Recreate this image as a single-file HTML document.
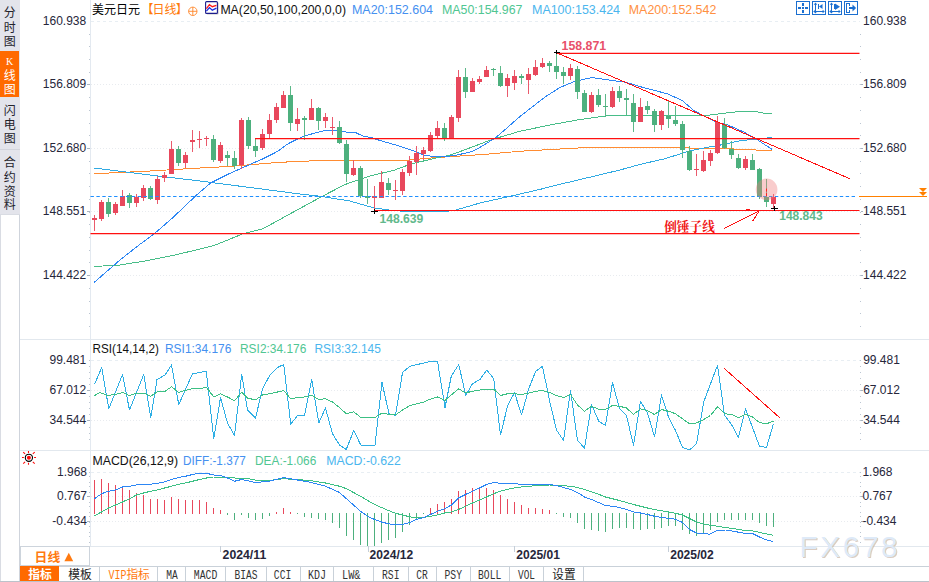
<!DOCTYPE html>
<html><head><meta charset="utf-8"><title>USDJPY</title>
<style>html,body{margin:0;padding:0;background:#fff;overflow:hidden}body{width:929px;height:582px}</style></head>
<body><svg width="929" height="582" viewBox="0 0 929 582" style="display:block;font-family:'Liberation Sans',sans-serif">
<rect width="929" height="582" fill="#fff"/>
<g shape-rendering="crispEdges">
<rect x="0" y="0" width="20" height="214" fill="#e3e4eb"/>
<rect x="0" y="51" width="19" height="46" fill="#ff6a00"/>
<rect x="0" y="149" width="20" height="1" fill="#d2d4dc"/>
<rect x="0" y="214" width="1" height="368" fill="#d9dce3"/>
<rect x="19" y="214" width="1" height="368" fill="#cfd4dc"/>
<rect x="0" y="214" width="20" height="1" fill="#d9dce3"/>
</g>
<g font-family="'Liberation Sans','Noto Sans CJK SC',sans-serif" font-size="12" fill="#23232b" text-anchor="middle">
<text x="9.8" y="17.2">分</text>
<text x="9.8" y="32">时</text>
<text x="9.8" y="46">图</text>
</g>
<g font-family="'Liberation Sans','Noto Sans CJK SC',sans-serif" font-size="12" fill="#fff" text-anchor="middle">
<text x="9.8" y="80">线</text>
<text x="9.8" y="94">图</text>
</g>
<text x="9.6" y="65.3" font-family="'Liberation Serif',serif" font-size="10" fill="#fff" text-anchor="middle">K</text>
<g font-family="'Liberation Sans','Noto Sans CJK SC',sans-serif" font-size="12" fill="#23232b" text-anchor="middle">
<text x="9.8" y="115.2">闪</text>
<text x="9.8" y="129.4">电</text>
<text x="9.8" y="143.2">图</text>
</g>
<g font-family="'Liberation Sans','Noto Sans CJK SC',sans-serif" font-size="12" fill="#23232b" text-anchor="middle">
<text x="9.8" y="167.4">合</text>
<text x="9.8" y="181.5">约</text>
<text x="9.8" y="195.6">资</text>
<text x="9.8" y="209.4">料</text>
</g>
<g shape-rendering="crispEdges">
<rect x="90" y="0" width="1" height="546" fill="#e3e9f0"/>
<rect x="20" y="339" width="909" height="1" fill="#e2e8ee"/>
<rect x="20" y="450" width="909" height="1" fill="#e2e8ee"/>
<rect x="20" y="546" width="909" height="1" fill="#e2e8ee"/>
<rect x="20" y="566" width="909" height="1" fill="#c9d1d9"/>
<rect x="0" y="581" width="929" height="1" fill="#bcc2ca"/>
</g>
<g fill="none" shape-rendering="crispEdges">
<path d="M91 21.5H860" stroke="#e8eef3" stroke-dasharray="3 3"/>
<path d="M91 84.5H860" stroke="#e8ebef" stroke-dasharray="1 2"/>
<path d="M91 148.5H860" stroke="#e8ebef" stroke-dasharray="1 2"/>
<path d="M91 211.5H860" stroke="#e8ebef" stroke-dasharray="1 2"/>
<path d="M91 275.5H860" stroke="#e8ebef" stroke-dasharray="1 2"/>
<path d="M91 360.5H860" stroke="#e8eef3" stroke-dasharray="3 3"/>
<path d="M91 390.5H860" stroke="#e8ebef" stroke-dasharray="1 2"/>
<path d="M91 420.5H860" stroke="#e8ebef" stroke-dasharray="1 2"/>
<path d="M91 472.5H860" stroke="#e8eef3" stroke-dasharray="3 3"/>
<path d="M91 496.5H860" stroke="#e8ebef" stroke-dasharray="1 2"/>
<path d="M91 521.5H860" stroke="#e8ebef" stroke-dasharray="1 2"/>
</g>
<g fill="#bcc6d2" shape-rendering="crispEdges">
<rect x="89" y="34" width="1" height="1"/><rect x="860" y="34" width="1" height="1"/>
<rect x="89" y="46" width="1" height="1"/><rect x="860" y="46" width="1" height="1"/>
<rect x="89" y="59" width="1" height="1"/><rect x="860" y="59" width="1" height="1"/>
<rect x="89" y="72" width="1" height="1"/><rect x="860" y="72" width="1" height="1"/>
<rect x="89" y="84" width="1" height="1"/><rect x="860" y="84" width="1" height="1"/>
<rect x="89" y="97" width="1" height="1"/><rect x="860" y="97" width="1" height="1"/>
<rect x="89" y="110" width="1" height="1"/><rect x="860" y="110" width="1" height="1"/>
<rect x="89" y="123" width="1" height="1"/><rect x="860" y="123" width="1" height="1"/>
<rect x="89" y="135" width="1" height="1"/><rect x="860" y="135" width="1" height="1"/>
<rect x="89" y="148" width="1" height="1"/><rect x="860" y="148" width="1" height="1"/>
<rect x="89" y="161" width="1" height="1"/><rect x="860" y="161" width="1" height="1"/>
<rect x="89" y="173" width="1" height="1"/><rect x="860" y="173" width="1" height="1"/>
<rect x="89" y="186" width="1" height="1"/><rect x="860" y="186" width="1" height="1"/>
<rect x="89" y="199" width="1" height="1"/><rect x="860" y="199" width="1" height="1"/>
<rect x="89" y="212" width="1" height="1"/><rect x="860" y="212" width="1" height="1"/>
<rect x="89" y="224" width="1" height="1"/><rect x="860" y="224" width="1" height="1"/>
<rect x="89" y="237" width="1" height="1"/><rect x="860" y="237" width="1" height="1"/>
<rect x="89" y="250" width="1" height="1"/><rect x="860" y="250" width="1" height="1"/>
<rect x="89" y="262" width="1" height="1"/><rect x="860" y="262" width="1" height="1"/>
<rect x="89" y="275" width="1" height="1"/><rect x="860" y="275" width="1" height="1"/>
<rect x="89" y="288" width="1" height="1"/><rect x="860" y="288" width="1" height="1"/>
<rect x="89" y="301" width="1" height="1"/><rect x="860" y="301" width="1" height="1"/>
<rect x="89" y="313" width="1" height="1"/><rect x="860" y="313" width="1" height="1"/>
<rect x="89" y="326" width="1" height="1"/><rect x="860" y="326" width="1" height="1"/>
<rect x="89" y="360" width="1" height="1"/><rect x="860" y="360" width="1" height="1"/>
<rect x="89" y="366" width="1" height="1"/><rect x="860" y="366" width="1" height="1"/>
<rect x="89" y="372" width="1" height="1"/><rect x="860" y="372" width="1" height="1"/>
<rect x="89" y="378" width="1" height="1"/><rect x="860" y="378" width="1" height="1"/>
<rect x="89" y="384" width="1" height="1"/><rect x="860" y="384" width="1" height="1"/>
<rect x="89" y="390" width="1" height="1"/><rect x="860" y="390" width="1" height="1"/>
<rect x="89" y="396" width="1" height="1"/><rect x="860" y="396" width="1" height="1"/>
<rect x="89" y="402" width="1" height="1"/><rect x="860" y="402" width="1" height="1"/>
<rect x="89" y="408" width="1" height="1"/><rect x="860" y="408" width="1" height="1"/>
<rect x="89" y="414" width="1" height="1"/><rect x="860" y="414" width="1" height="1"/>
<rect x="89" y="420" width="1" height="1"/><rect x="860" y="420" width="1" height="1"/>
<rect x="89" y="427" width="1" height="1"/><rect x="860" y="427" width="1" height="1"/>
<rect x="89" y="433" width="1" height="1"/><rect x="860" y="433" width="1" height="1"/>
<rect x="89" y="439" width="1" height="1"/><rect x="860" y="439" width="1" height="1"/>
<rect x="89" y="472" width="1" height="1"/><rect x="860" y="472" width="1" height="1"/>
<rect x="89" y="476" width="1" height="1"/><rect x="860" y="476" width="1" height="1"/>
<rect x="89" y="482" width="1" height="1"/><rect x="860" y="482" width="1" height="1"/>
<rect x="89" y="486" width="1" height="1"/><rect x="860" y="486" width="1" height="1"/>
<rect x="89" y="492" width="1" height="1"/><rect x="860" y="492" width="1" height="1"/>
<rect x="89" y="496" width="1" height="1"/><rect x="860" y="496" width="1" height="1"/>
<rect x="89" y="502" width="1" height="1"/><rect x="860" y="502" width="1" height="1"/>
<rect x="89" y="506" width="1" height="1"/><rect x="860" y="506" width="1" height="1"/>
<rect x="89" y="512" width="1" height="1"/><rect x="860" y="512" width="1" height="1"/>
<rect x="89" y="516" width="1" height="1"/><rect x="860" y="516" width="1" height="1"/>
<rect x="89" y="522" width="1" height="1"/><rect x="860" y="522" width="1" height="1"/>
<rect x="89" y="526" width="1" height="1"/><rect x="860" y="526" width="1" height="1"/>
<rect x="89" y="532" width="1" height="1"/><rect x="860" y="532" width="1" height="1"/>
<rect x="89" y="536" width="1" height="1"/><rect x="860" y="536" width="1" height="1"/>
<rect x="89" y="542" width="1" height="1"/><rect x="860" y="542" width="1" height="1"/>
</g>
<g fill="#aab4c0" shape-rendering="crispEdges">
<rect x="87" y="84" width="3" height="1"/><rect x="861" y="84" width="2" height="1"/>
<rect x="87" y="148" width="3" height="1"/><rect x="861" y="148" width="2" height="1"/>
<rect x="87" y="211" width="3" height="1"/><rect x="861" y="211" width="2" height="1"/>
<rect x="87" y="275" width="3" height="1"/><rect x="861" y="275" width="2" height="1"/>
<rect x="87" y="390" width="3" height="1"/><rect x="861" y="390" width="2" height="1"/>
<rect x="87" y="420" width="3" height="1"/><rect x="861" y="420" width="2" height="1"/>
<rect x="87" y="496" width="3" height="1"/><rect x="861" y="496" width="2" height="1"/>
<rect x="87" y="521" width="3" height="1"/><rect x="861" y="521" width="2" height="1"/>
</g>
<polyline points="94.25,173.75 150,171 200,168 230,166.4 280,162.3 322,160.4 405,160.4 426,158.4 440,157.3 470,155.4 492,153.75 520,151.25 590,147.3 685.2,147.2 690,148.3 730.4,148.3 736.9,149.6 754.6,149.6 757.9,150.9 772.4,150.9" fill="none" stroke="#ff8c32" stroke-width="1" stroke-linejoin="round" shape-rendering="crispEdges"/>
<polyline points="94,168 150,175 200,181 250,187.5 300,194 320,196.25 350,201 374,208 392,210.4 404,211.3 447,211.3 456,210 480,203 515,195.2 540,189.4 558.75,184.6 620,170 640,164.4 665.8,158.5 688.4,151.2 707.8,147.2 724,144.4 740,140.7 756.3,139.1 772.4,137.5" fill="none" stroke="#30aae2" stroke-width="1" stroke-linejoin="round" shape-rendering="crispEdges"/>
<polyline points="94,266.5 120,265 145,261 175,255 200,249 215.5,245 243,233.75 263,228.75 288,215 320,197.5 345,184.5 370,176 394.2,170.2 410.4,164.2 434.6,158.3 450,155.2 466.9,149 492,139.5 520,131.25 550,125 580,119.5 610,115.4 640,115.4 678.8,115.4 704.6,115.7 714.3,114.4 730.4,112.5 743.3,111.2 754.6,111.2 764.3,113.3 772.4,113.3" fill="none" stroke="#48bd88" stroke-width="1" stroke-linejoin="round" shape-rendering="crispEdges"/>
<polyline points="94,282.5 120,260 139,245 154,234 173,217.5 195.5,196 210.5,183 230,173.3 251,164 262.3,159.1 278.4,151 286.5,144.6 294.6,140.5 302.7,136.5 314,133.3 325.3,130.4 339.8,130.4 346.3,132 354.3,132 364,136.5 370.5,137.3 380,140.5 400,146.25 415,151.25 425,155.5 440,157 455,155.5 472.5,151.5 482,146.2 492,140 496,137.5 520,116.5 545,97 560,87.5 575,81.25 592,77.5 605,79.5 626,82.3 640,86.6 650,89.2 667.5,93.9 682,100.3 693.3,110 704.6,116.5 717.5,122.5 727.2,124.6 743.3,131.8 756.3,139.1 772.4,149.6" fill="none" stroke="#2c86f4" stroke-width="1" stroke-linejoin="round" shape-rendering="crispEdges"/>
<g shape-rendering="crispEdges">
<rect x="94" y="215" width="1" height="16" fill="#ea5a6c"/>
<rect x="92" y="218" width="5" height="2" fill="#e8485c"/>
<rect x="101" y="200" width="1" height="21" fill="#ea5a6c"/>
<rect x="99" y="202" width="5" height="17" fill="#e8485c"/>
<rect x="108" y="198" width="1" height="19" fill="#5cb889"/>
<rect x="106" y="202" width="5" height="12" fill="#4db07e"/>
<rect x="115" y="202" width="1" height="13" fill="#ea5a6c"/>
<rect x="113" y="204" width="5" height="9" fill="#e8485c"/>
<rect x="122" y="190" width="1" height="16" fill="#ea5a6c"/>
<rect x="120" y="196" width="5" height="10" fill="#e8485c"/>
<rect x="129" y="193" width="1" height="15" fill="#5cb889"/>
<rect x="127" y="195" width="5" height="8" fill="#4db07e"/>
<rect x="136" y="194" width="1" height="13" fill="#ea5a6c"/>
<rect x="134" y="197" width="5" height="6" fill="#e8485c"/>
<rect x="143" y="185" width="1" height="16" fill="#ea5a6c"/>
<rect x="141" y="188" width="5" height="10" fill="#e8485c"/>
<rect x="150" y="186" width="1" height="14" fill="#5cb889"/>
<rect x="148" y="188" width="5" height="11" fill="#4db07e"/>
<rect x="157" y="176" width="1" height="28" fill="#ea5a6c"/>
<rect x="155" y="179" width="5" height="21" fill="#e8485c"/>
<rect x="164" y="172" width="1" height="10" fill="#ea5a6c"/>
<rect x="162" y="175" width="5" height="3" fill="#e8485c"/>
<rect x="171" y="141" width="1" height="33" fill="#ea5a6c"/>
<rect x="169" y="149" width="5" height="25" fill="#e8485c"/>
<rect x="178" y="146" width="1" height="20" fill="#5cb889"/>
<rect x="176" y="149" width="5" height="14" fill="#4db07e"/>
<rect x="185" y="152" width="1" height="16" fill="#ea5a6c"/>
<rect x="183" y="155" width="5" height="8" fill="#e8485c"/>
<rect x="192" y="130" width="1" height="22" fill="#ea5a6c"/>
<rect x="190" y="140" width="5" height="2" fill="#e8485c"/>
<rect x="199" y="131" width="1" height="17" fill="#ea5a6c"/>
<rect x="197" y="139" width="5" height="1" fill="#e8485c"/>
<rect x="206" y="136" width="1" height="10" fill="#ea5a6c"/>
<rect x="204" y="138" width="5" height="1" fill="#e8485c"/>
<rect x="213" y="135" width="1" height="27" fill="#5cb889"/>
<rect x="211" y="139" width="5" height="21" fill="#4db07e"/>
<rect x="220" y="142" width="1" height="21" fill="#ea5a6c"/>
<rect x="218" y="145" width="5" height="16" fill="#e8485c"/>
<rect x="227" y="151" width="1" height="15" fill="#5cb889"/>
<rect x="225" y="155" width="5" height="3" fill="#4db07e"/>
<rect x="234" y="151" width="1" height="18" fill="#5cb889"/>
<rect x="232" y="158" width="5" height="8" fill="#4db07e"/>
<rect x="241" y="118" width="1" height="51" fill="#ea5a6c"/>
<rect x="239" y="120" width="5" height="45" fill="#e8485c"/>
<rect x="248" y="117" width="1" height="32" fill="#5cb889"/>
<rect x="246" y="120" width="5" height="26" fill="#4db07e"/>
<rect x="255" y="139" width="1" height="18" fill="#5cb889"/>
<rect x="253" y="146" width="5" height="5" fill="#4db07e"/>
<rect x="262" y="129" width="1" height="21" fill="#ea5a6c"/>
<rect x="260" y="134" width="5" height="14" fill="#e8485c"/>
<rect x="269" y="114" width="1" height="24" fill="#ea5a6c"/>
<rect x="267" y="120" width="5" height="14" fill="#e8485c"/>
<rect x="276" y="103" width="1" height="20" fill="#ea5a6c"/>
<rect x="274" y="107" width="5" height="13" fill="#e8485c"/>
<rect x="283" y="91" width="1" height="17" fill="#ea5a6c"/>
<rect x="281" y="95" width="5" height="13" fill="#e8485c"/>
<rect x="290" y="86" width="1" height="45" fill="#5cb889"/>
<rect x="288" y="95" width="5" height="28" fill="#4db07e"/>
<rect x="297" y="108" width="1" height="23" fill="#ea5a6c"/>
<rect x="295" y="119" width="5" height="5" fill="#e8485c"/>
<rect x="304" y="116" width="1" height="24" fill="#5cb889"/>
<rect x="302" y="118" width="5" height="2" fill="#4db07e"/>
<rect x="311" y="99" width="1" height="21" fill="#ea5a6c"/>
<rect x="309" y="108" width="5" height="12" fill="#e8485c"/>
<rect x="318" y="107" width="1" height="23" fill="#5cb889"/>
<rect x="316" y="108" width="5" height="13" fill="#4db07e"/>
<rect x="325" y="113" width="1" height="15" fill="#ea5a6c"/>
<rect x="323" y="117" width="5" height="4" fill="#e8485c"/>
<rect x="332" y="117" width="1" height="18" fill="#ea5a6c"/>
<rect x="330" y="127" width="5" height="1" fill="#e8485c"/>
<rect x="339" y="121" width="1" height="23" fill="#5cb889"/>
<rect x="337" y="127" width="5" height="16" fill="#4db07e"/>
<rect x="346" y="140" width="1" height="42" fill="#5cb889"/>
<rect x="344" y="144" width="5" height="30" fill="#4db07e"/>
<rect x="353" y="160" width="1" height="16" fill="#ea5a6c"/>
<rect x="351" y="168" width="5" height="7" fill="#e8485c"/>
<rect x="360" y="166" width="1" height="32" fill="#5cb889"/>
<rect x="358" y="168" width="5" height="28" fill="#4db07e"/>
<rect x="367" y="179" width="1" height="25" fill="#5cb889"/>
<rect x="365" y="196" width="5" height="2" fill="#4db07e"/>
<rect x="374" y="186" width="1" height="25" fill="#ea5a6c"/>
<rect x="372" y="196" width="5" height="2" fill="#e8485c"/>
<rect x="381" y="171" width="1" height="27" fill="#ea5a6c"/>
<rect x="379" y="182" width="5" height="16" fill="#e8485c"/>
<rect x="388" y="178" width="1" height="17" fill="#5cb889"/>
<rect x="386" y="183" width="5" height="7" fill="#4db07e"/>
<rect x="395" y="180" width="1" height="20" fill="#ea5a6c"/>
<rect x="393" y="190" width="5" height="1" fill="#e8485c"/>
<rect x="402" y="169" width="1" height="26" fill="#ea5a6c"/>
<rect x="400" y="172" width="5" height="19" fill="#e8485c"/>
<rect x="409" y="156" width="1" height="20" fill="#ea5a6c"/>
<rect x="407" y="161" width="5" height="12" fill="#e8485c"/>
<rect x="416" y="146" width="1" height="29" fill="#ea5a6c"/>
<rect x="414" y="153" width="5" height="9" fill="#e8485c"/>
<rect x="423" y="147" width="1" height="13" fill="#ea5a6c"/>
<rect x="421" y="150" width="5" height="4" fill="#e8485c"/>
<rect x="430" y="132" width="1" height="20" fill="#ea5a6c"/>
<rect x="428" y="135" width="5" height="16" fill="#e8485c"/>
<rect x="437" y="121" width="1" height="17" fill="#ea5a6c"/>
<rect x="435" y="128" width="5" height="8" fill="#e8485c"/>
<rect x="444" y="123" width="1" height="18" fill="#5cb889"/>
<rect x="442" y="128" width="5" height="10" fill="#4db07e"/>
<rect x="451" y="115" width="1" height="23" fill="#ea5a6c"/>
<rect x="449" y="117" width="5" height="21" fill="#e8485c"/>
<rect x="458" y="70" width="1" height="52" fill="#ea5a6c"/>
<rect x="456" y="77" width="5" height="41" fill="#e8485c"/>
<rect x="465" y="68" width="1" height="30" fill="#5cb889"/>
<rect x="463" y="77" width="5" height="15" fill="#4db07e"/>
<rect x="472" y="78" width="1" height="14" fill="#ea5a6c"/>
<rect x="470" y="81" width="5" height="11" fill="#e8485c"/>
<rect x="479" y="76" width="1" height="8" fill="#ea5a6c"/>
<rect x="477" y="79" width="5" height="3" fill="#e8485c"/>
<rect x="486" y="66" width="1" height="11" fill="#ea5a6c"/>
<rect x="484" y="70" width="5" height="7" fill="#e8485c"/>
<rect x="493" y="68" width="1" height="8" fill="#5cb889"/>
<rect x="491" y="69" width="5" height="1" fill="#4db07e"/>
<rect x="500" y="66" width="1" height="21" fill="#5cb889"/>
<rect x="498" y="73" width="5" height="13" fill="#4db07e"/>
<rect x="507" y="74" width="1" height="23" fill="#ea5a6c"/>
<rect x="505" y="78" width="5" height="8" fill="#e8485c"/>
<rect x="514" y="70" width="1" height="20" fill="#ea5a6c"/>
<rect x="512" y="76" width="5" height="7" fill="#e8485c"/>
<rect x="521" y="74" width="1" height="10" fill="#5cb889"/>
<rect x="519" y="76" width="5" height="2" fill="#4db07e"/>
<rect x="528" y="68" width="1" height="26" fill="#ea5a6c"/>
<rect x="526" y="74" width="5" height="6" fill="#e8485c"/>
<rect x="535" y="60" width="1" height="16" fill="#ea5a6c"/>
<rect x="533" y="67" width="5" height="8" fill="#e8485c"/>
<rect x="542" y="58" width="1" height="10" fill="#ea5a6c"/>
<rect x="540" y="63" width="5" height="4" fill="#e8485c"/>
<rect x="549" y="61" width="1" height="11" fill="#5cb889"/>
<rect x="547" y="63" width="5" height="3" fill="#4db07e"/>
<rect x="556" y="52" width="1" height="27" fill="#5cb889"/>
<rect x="554" y="66" width="5" height="6" fill="#4db07e"/>
<rect x="563" y="67" width="1" height="17" fill="#5cb889"/>
<rect x="561" y="72" width="5" height="4" fill="#4db07e"/>
<rect x="570" y="64" width="1" height="16" fill="#ea5a6c"/>
<rect x="568" y="68" width="5" height="8" fill="#e8485c"/>
<rect x="577" y="66" width="1" height="33" fill="#5cb889"/>
<rect x="575" y="69" width="5" height="23" fill="#4db07e"/>
<rect x="584" y="90" width="1" height="22" fill="#5cb889"/>
<rect x="582" y="93" width="5" height="19" fill="#4db07e"/>
<rect x="591" y="92" width="1" height="21" fill="#ea5a6c"/>
<rect x="589" y="95" width="5" height="17" fill="#e8485c"/>
<rect x="598" y="89" width="1" height="18" fill="#5cb889"/>
<rect x="596" y="95" width="5" height="10" fill="#4db07e"/>
<rect x="605" y="94" width="1" height="22" fill="#5cb889"/>
<rect x="603" y="106" width="5" height="1" fill="#4db07e"/>
<rect x="612" y="87" width="1" height="21" fill="#ea5a6c"/>
<rect x="610" y="91" width="5" height="16" fill="#e8485c"/>
<rect x="619" y="86" width="1" height="16" fill="#5cb889"/>
<rect x="617" y="91" width="5" height="7" fill="#4db07e"/>
<rect x="626" y="89" width="1" height="26" fill="#5cb889"/>
<rect x="624" y="98" width="5" height="2" fill="#4db07e"/>
<rect x="633" y="94" width="1" height="38" fill="#5cb889"/>
<rect x="631" y="103" width="5" height="19" fill="#4db07e"/>
<rect x="640" y="98" width="1" height="24" fill="#ea5a6c"/>
<rect x="638" y="107" width="5" height="15" fill="#e8485c"/>
<rect x="647" y="101" width="1" height="13" fill="#5cb889"/>
<rect x="645" y="106" width="5" height="4" fill="#4db07e"/>
<rect x="654" y="109" width="1" height="23" fill="#5cb889"/>
<rect x="652" y="111" width="5" height="14" fill="#4db07e"/>
<rect x="661" y="110" width="1" height="20" fill="#ea5a6c"/>
<rect x="659" y="111" width="5" height="14" fill="#e8485c"/>
<rect x="668" y="100" width="1" height="28" fill="#5cb889"/>
<rect x="666" y="116" width="5" height="3" fill="#4db07e"/>
<rect x="675" y="106" width="1" height="20" fill="#5cb889"/>
<rect x="673" y="120" width="5" height="4" fill="#4db07e"/>
<rect x="682" y="121" width="1" height="37" fill="#5cb889"/>
<rect x="680" y="124" width="5" height="26" fill="#4db07e"/>
<rect x="689" y="146" width="1" height="25" fill="#5cb889"/>
<rect x="687" y="151" width="5" height="19" fill="#4db07e"/>
<rect x="696" y="154" width="1" height="22" fill="#ea5a6c"/>
<rect x="694" y="169" width="5" height="1" fill="#e8485c"/>
<rect x="703" y="151" width="1" height="21" fill="#ea5a6c"/>
<rect x="701" y="160" width="5" height="11" fill="#e8485c"/>
<rect x="710" y="150" width="1" height="16" fill="#ea5a6c"/>
<rect x="708" y="153" width="5" height="8" fill="#e8485c"/>
<rect x="717" y="116" width="1" height="38" fill="#ea5a6c"/>
<rect x="715" y="122" width="5" height="31" fill="#e8485c"/>
<rect x="724" y="118" width="1" height="31" fill="#5cb889"/>
<rect x="722" y="124" width="5" height="24" fill="#4db07e"/>
<rect x="731" y="141" width="1" height="18" fill="#5cb889"/>
<rect x="729" y="149" width="5" height="6" fill="#4db07e"/>
<rect x="738" y="154" width="1" height="15" fill="#5cb889"/>
<rect x="736" y="158" width="5" height="10" fill="#4db07e"/>
<rect x="745" y="156" width="1" height="14" fill="#ea5a6c"/>
<rect x="743" y="159" width="5" height="9" fill="#e8485c"/>
<rect x="752" y="154" width="1" height="16" fill="#5cb889"/>
<rect x="750" y="160" width="5" height="10" fill="#4db07e"/>
<rect x="759" y="168" width="1" height="31" fill="#5cb889"/>
<rect x="757" y="169" width="5" height="28" fill="#4db07e"/>
<rect x="766" y="179" width="1" height="28" fill="#5cb889"/>
<rect x="764" y="197" width="5" height="5" fill="#4db07e"/>
<rect x="773" y="194" width="1" height="15" fill="#ea5a6c"/>
<rect x="771" y="197" width="5" height="7" fill="#e8485c"/>
</g>
<g stroke="#ff1010" stroke-width="1.2" fill="none">
<path d="M556 53.4H859.5"/>
<path d="M255 138.6H859.5"/>
<path d="M374 210.5H859.5"/>
<path d="M90.5 233.6H859.5"/>
<path d="M556.2 52.6L850 178.8" stroke-width="1" shape-rendering="crispEdges"/>
</g>
<path d="M90.5 196.5H857" stroke="#1e8fff" stroke-width="1.2" stroke-dasharray="3.4 2.5" fill="none"/>
<rect x="859" y="196" width="68" height="1" fill="#ff8000" shape-rendering="crispEdges"/>
<path d="M919 188h8l-4 4zM919 192h8l-4 4z" fill="#ff8000"/>
<circle cx="766.6" cy="189.4" r="10.8" fill="#f07878" fill-opacity="0.38"/>
<path d="M766.5 188.6V197" stroke="#ff2020" stroke-width="1" stroke-dasharray="3 1.5" fill="none"/>
<g stroke="#000" stroke-width="1" fill="none" shape-rendering="crispEdges">
<path d="M554 52.5H560 M556.5 50V54"/>
<path d="M371 211.5H378 M374.5 209V214"/>
<path d="M771 208.5H778 M774.5 206V211"/>
</g>
 <text x="561.6" y="49.6" font-size="12" font-weight="bold" fill="#e8506a" textLength="44.6" lengthAdjust="spacingAndGlyphs">158.871</text>
<text x="379.4" y="222.6" font-size="12" font-weight="bold" fill="#62b98c" textLength="44" lengthAdjust="spacingAndGlyphs">148.639</text>
<text x="779.2" y="220.4" font-size="12" font-weight="bold" fill="#62b98c" textLength="43.5" lengthAdjust="spacingAndGlyphs">148.843</text>
<text x="664.2" y="231" font-family="'Liberation Serif','Noto Serif CJK SC',serif" font-size="12.6" font-weight="bold" fill="#f01010" textLength="50.6" lengthAdjust="spacingAndGlyphs">倒锤子线</text>
<path d="M724.4 228.3L759 211.2M746 209.4L759 211.2L752.8 220.8" stroke="#ff1010" stroke-width="1" fill="none" shape-rendering="crispEdges"/>
<text x="92" y="14.2" font-family="'Liberation Sans','Noto Sans CJK SC',sans-serif" font-size="12" fill="#000" textLength="48" lengthAdjust="spacingAndGlyphs">美元日元</text>
<g font-family="'Liberation Sans','Noto Sans CJK SC',sans-serif" font-size="12" fill="#ff7a0a">
<text x="141.5" y="14.2">【</text>
<text x="152.5" y="14.2">日线</text>
<text x="175.8" y="14.2">】</text>
</g>
<g stroke="#ff7f1e" fill="none" stroke-width="0.85"><circle cx="192.8" cy="11.3" r="4.2"/><path d="M188.6 11.3H197 M192.8 7.1V15.5"/></g>
<rect x="206.6" y="2.6" width="12" height="12" rx="1" fill="#9a9a9a" opacity="0.6"/>
<rect x="205.6" y="1.6" width="11.8" height="11.8" rx="1" fill="#fff" stroke="#1c1c8c" stroke-width="1.1"/>
<path d="M206.4 8.6L209.4 4.7L212.3 6.7L216.4 5.3" stroke="#ff1818" stroke-width="1.3" fill="none"/>
<path d="M206.4 11.2L209.4 7.6L212.3 10.2L216.4 8.2" stroke="#1c30e0" stroke-width="1.3" fill="none"/>
<text x="220.4" y="14" font-size="12.4" fill="#111" textLength="125.6" lengthAdjust="spacingAndGlyphs" >MA(20,50,100,200,0,0)</text>
<text x="352" y="14" font-size="12.4" fill="#4590f0" textLength="81" lengthAdjust="spacingAndGlyphs" >MA20:152.604</text>
<text x="442" y="14" font-size="12.4" fill="#50c692" textLength="80.5" lengthAdjust="spacingAndGlyphs" >MA50:154.967</text>
<text x="532" y="14" font-size="12.4" fill="#4bb6ee" textLength="88" lengthAdjust="spacingAndGlyphs" >MA100:153.424</text>
<text x="628.8" y="14" font-size="12.4" fill="#ff9042" textLength="87.5" lengthAdjust="spacingAndGlyphs" >MA200:152.542</text>
<g shape-rendering="crispEdges" fill="none" stroke="#1b6fd0" stroke-width="1">
<rect x="796.5" y="1.5" width="13" height="13"/>
<rect x="812.5" y="1.5" width="13" height="13"/>
<rect x="828.5" y="1.5" width="13" height="13"/>
<rect x="844.5" y="1.5" width="13" height="13"/>
</g>
<g fill="#1b6fd0" shape-rendering="crispEdges">
<rect x="798" y="7" width="3" height="2"/><rect x="802" y="7" width="2" height="2"/><rect x="805" y="7" width="3" height="2"/>
<rect x="802" y="3" width="2" height="3"/><rect x="802" y="10" width="2" height="3"/>
<rect x="815" y="4" width="1" height="9"/><rect x="814" y="11" width="10" height="1"/>
<rect x="818" y="4" width="1" height="5"/>
<rect x="831" y="4" width="1" height="9"/><rect x="830" y="11" width="10" height="1"/>
<rect x="834" y="4" width="1" height="5"/>
<rect x="846" y="3" width="1" height="10"/><rect x="846" y="3" width="4" height="1"/><rect x="846" y="12" width="4" height="1"/><rect x="849" y="3" width="1" height="3"/><rect x="849" y="10" width="1" height="3"/>
<rect x="849" y="7" width="4" height="2"/>
</g>
<g fill="#1b6fd0">
<path d="M815.5 2.6l1.8 2.2h-3.6z M815.5 13.4l1.8 -2.2h-3.6z M824.8 11.5l-2.2 1.8v-3.6z M813.2 11.5l2.2 1.8v-3.6z"/>
<path d="M822.5 4v5l-3.5 -2.5z"/>
<path d="M831.5 2.6l1.8 2.2h-3.6z M831.5 13.4l1.8 -2.2h-3.6z M840.8 11.5l-2.2 1.8v-3.6z M829.2 11.5l2.2 1.8v-3.6z"/>
<path d="M835 3.5v6.5l5 -3.2z"/>
<path d="M852.5 4.6l3.6 3.4l-3.6 3.4z"/>
</g>
<text x="86.2" y="25.3" font-size="12" fill="#26263a" text-anchor="end">160.938</text>
<text x="863.1" y="25.3" font-size="12" fill="#26263a" text-anchor="start">160.938</text>
<text x="86.2" y="88.3" font-size="12" fill="#26263a" text-anchor="end">156.809</text>
<text x="863.1" y="88.3" font-size="12" fill="#26263a" text-anchor="start">156.809</text>
<text x="86.2" y="152.3" font-size="12" fill="#26263a" text-anchor="end">152.680</text>
<text x="863.1" y="152.3" font-size="12" fill="#26263a" text-anchor="start">152.680</text>
<text x="86.2" y="215.3" font-size="12" fill="#26263a" text-anchor="end">148.551</text>
<text x="863.1" y="215.3" font-size="12" fill="#26263a" text-anchor="start">148.551</text>
<text x="86.2" y="278.7" font-size="12" fill="#26263a" text-anchor="end">144.422</text>
<text x="863.1" y="278.7" font-size="12" fill="#26263a" text-anchor="start">144.422</text>
<text x="86.2" y="363.9" font-size="12" fill="#26263a" text-anchor="end">99.481</text>
<text x="863.2" y="363.9" font-size="12" fill="#26263a" text-anchor="start">99.481</text>
<text x="86.2" y="393.7" font-size="12" fill="#26263a" text-anchor="end">67.012</text>
<text x="863.2" y="393.7" font-size="12" fill="#26263a" text-anchor="start">67.012</text>
<text x="86.2" y="424.3" font-size="12" fill="#26263a" text-anchor="end">34.544</text>
<text x="863.2" y="424.3" font-size="12" fill="#26263a" text-anchor="start">34.544</text>
<text x="87" y="476" font-size="12" fill="#26263a" text-anchor="end">1.968</text>
<text x="862.4" y="476" font-size="12" fill="#26263a" text-anchor="start">1.968</text>
<text x="87" y="500" font-size="12" fill="#26263a" text-anchor="end">0.767</text>
<text x="862.4" y="500" font-size="12" fill="#26263a" text-anchor="start">0.767</text>
<text x="862.4" y="525.1" font-size="12" fill="#26263a" text-anchor="start">-0.434</text>
<text x="52.2" y="525.1" font-size="12" fill="#26263a" textLength="34.8" lengthAdjust="spacing">-0.434</text>
<text x="92.5" y="353" font-size="12.4" fill="#111" textLength="66.3" lengthAdjust="spacingAndGlyphs" >RSI(14,14,2)</text>
<text x="165" y="353" font-size="12.4" fill="#4590f0" textLength="66.3" lengthAdjust="spacingAndGlyphs" >RSI1:34.176</text>
<text x="240" y="353" font-size="12.4" fill="#50c692" textLength="66.3" lengthAdjust="spacingAndGlyphs" >RSI2:34.176</text>
<text x="314.5" y="353" font-size="12.4" fill="#4bb6ee" textLength="66.3" lengthAdjust="spacingAndGlyphs" >RSI3:32.145</text>
<polyline points="94.5,384.5 101.75,367.5 108.75,408.75 122.5,374.5 129.5,410 143.75,374.5 150.75,418 157,379.5 165,375 171.5,365 178.75,404.5 192.5,373.75 206.25,371.25 213.75,438.75 220.5,397.5 227.5,423 234.5,435.5 241.75,374.25 247.5,410 255.5,418 262.5,388.75 270,375 277.5,367.5 283.75,364.5 290.75,424.25 297.5,415.5 304.5,415.5 311.75,379.5 318.75,423 325.5,408 332.5,433.75 339.5,445 346.25,449.5 353.75,430.5 360.75,445 375,445 382,382.5 389,413.75 395.5,415.5 402.5,372.5 410,366.25 423.75,363 431.25,361.25 437.5,361.25 445,407.5 451.25,376.25 458.75,364.5 465.75,395.5 472.5,383.75 480,379.5 486.75,370 493.75,378.75 500.5,435 507.5,406.25 514.5,392.5 521.5,415 528.75,388.75 535.75,371.25 542.5,366.25 549.5,400.5 556.5,430 563.5,440.5 570.5,390.5 577.5,440.5 584.5,448 591.5,404.5 598.75,421.25 605.5,425.5 612.5,382.5 619.5,408.75 626.5,415.5 633.5,445.5 640.5,401.25 647.5,413 654.5,436.75 661.5,395 668.5,417 675.5,430.5 682.5,447.5 689.5,450 696.5,443.75 703.75,402 710.5,383.75 717.5,365.5 724.5,415 731.5,424.5 738.5,437.5 745.5,408.75 752.5,427.5 759.5,446.25 766.5,447.5 773.5,423.75" fill="none" stroke="#2eaee4" stroke-width="1" stroke-linejoin="round" shape-rendering="crispEdges"/>
<polyline points="94.5,395.5 100,392.5 107.5,395.5 115,394.5 122.5,392.5 129.5,395.5 135,393.75 143.75,393 150.75,396.25 157,392 165,391.25 171.5,386.75 178.75,392.5 185,390.5 192.5,388.75 200,388.75 206.25,387 213.75,397 220.5,393.75 227.5,397 234.5,400.75 241.75,392 247.5,398 255.5,400 262.5,395 270,393.75 277.5,392 283.75,390.5 290.75,398.75 297.5,397.5 304.5,397 311.75,395.5 318.75,399.5 325.5,398.75 332.5,402 339.5,407.5 346.25,413.75 353.75,411.75 360.75,417.5 375,417.5 382,413 389,414.5 395.5,415 402.5,410 410,405.5 423.75,402 431.25,398.75 437.5,397 445,400.5 451.25,395 458.75,388.75 465.5,393 472.5,391.25 480,390 486.75,389.25 493.75,389.25 500.5,395.5 507.5,393.75 514.5,393.75 521.5,394.5 528.75,393 535.75,391.25 542.5,390.5 549.5,392.5 556.5,395.5 563.5,397.5 570.5,394.5 577.5,405 584.5,411.25 591.5,406.25 598.75,409.25 605.5,409.25 612.5,405.5 619.5,406.25 626.5,408 633.5,414.5 640.5,408.75 647.5,410.75 654.5,414.5 661.5,409.5 668.5,411.25 675.5,413.75 682.5,418.75 689.5,423.75 696.5,423 703.75,419.5 710.5,415.5 717.5,406.75 724.5,413.75 731.5,414.5 738.5,417.5 745.5,414.5 752.5,417 759.5,422.5 766.5,423.75 773.5,421.25" fill="none" stroke="#3cc084" stroke-width="1" stroke-linejoin="round" shape-rendering="crispEdges"/>
<path d="M723.8 368L780 418" stroke="#ff1010" stroke-width="1" fill="none" shape-rendering="crispEdges"/>
<text x="92.5" y="465" font-size="12.4" fill="#111" textLength="85.5" lengthAdjust="spacingAndGlyphs" >MACD(26,12,9)</text>
<text x="183" y="465" font-size="12.4" fill="#4590f0" textLength="62.8" lengthAdjust="spacingAndGlyphs" >DIFF:-1.377</text>
<text x="255" y="465" font-size="12.4" fill="#50c692" textLength="61.3" lengthAdjust="spacingAndGlyphs" >DEA:-1.066</text>
<text x="326.3" y="465" font-size="12.4" fill="#4bb6ee" textLength="74.5" lengthAdjust="spacingAndGlyphs" >MACD:-0.622</text>
<g shape-rendering="crispEdges">
<rect x="94" y="480" width="1" height="34" fill="#e8485c"/>
<rect x="101" y="479" width="1" height="35" fill="#e8485c"/>
<rect x="108" y="483" width="1" height="31" fill="#e8485c"/>
<rect x="115" y="485" width="1" height="29" fill="#e8485c"/>
<rect x="122" y="486" width="1" height="28" fill="#e8485c"/>
<rect x="129" y="490" width="1" height="24" fill="#e8485c"/>
<rect x="136" y="493" width="1" height="21" fill="#e8485c"/>
<rect x="143" y="495" width="1" height="19" fill="#e8485c"/>
<rect x="150" y="499" width="1" height="15" fill="#e8485c"/>
<rect x="157" y="499" width="1" height="15" fill="#e8485c"/>
<rect x="164" y="500" width="1" height="14" fill="#e8485c"/>
<rect x="171" y="497" width="1" height="17" fill="#e8485c"/>
<rect x="178" y="499" width="1" height="15" fill="#e8485c"/>
<rect x="185" y="500" width="1" height="14" fill="#e8485c"/>
<rect x="192" y="500" width="1" height="14" fill="#e8485c"/>
<rect x="199" y="500" width="1" height="14" fill="#e8485c"/>
<rect x="206" y="502" width="1" height="12" fill="#e8485c"/>
<rect x="213" y="508" width="1" height="6" fill="#e8485c"/>
<rect x="220" y="510" width="1" height="4" fill="#e8485c"/>
<rect x="227" y="513" width="1" height="2" fill="#4db07e"/>
<rect x="234" y="513" width="1" height="7" fill="#4db07e"/>
<rect x="241" y="513" width="1" height="2" fill="#4db07e"/>
<rect x="248" y="513" width="1" height="5" fill="#4db07e"/>
<rect x="255" y="513" width="1" height="7" fill="#4db07e"/>
<rect x="262" y="513" width="1" height="6" fill="#4db07e"/>
<rect x="269" y="513" width="1" height="3" fill="#4db07e"/>
<rect x="276" y="512" width="1" height="2" fill="#e8485c"/>
<rect x="283" y="508" width="1" height="6" fill="#e8485c"/>
<rect x="290" y="512" width="1" height="2" fill="#e8485c"/>
<rect x="297" y="513" width="1" height="1" fill="#4db07e"/>
<rect x="304" y="513" width="1" height="4" fill="#4db07e"/>
<rect x="311" y="513" width="1" height="5" fill="#4db07e"/>
<rect x="318" y="513" width="1" height="6" fill="#4db07e"/>
<rect x="325" y="513" width="1" height="7" fill="#4db07e"/>
<rect x="332" y="513" width="1" height="10" fill="#4db07e"/>
<rect x="339" y="513" width="1" height="15" fill="#4db07e"/>
<rect x="346" y="513" width="1" height="23" fill="#4db07e"/>
<rect x="353" y="513" width="1" height="27" fill="#4db07e"/>
<rect x="360" y="513" width="1" height="32" fill="#4db07e"/>
<rect x="367" y="513" width="1" height="33" fill="#4db07e"/>
<rect x="374" y="513" width="1" height="33" fill="#4db07e"/>
<rect x="381" y="513" width="1" height="30" fill="#4db07e"/>
<rect x="388" y="513" width="1" height="27" fill="#4db07e"/>
<rect x="395" y="513" width="1" height="25" fill="#4db07e"/>
<rect x="402" y="513" width="1" height="19" fill="#4db07e"/>
<rect x="409" y="513" width="1" height="12" fill="#4db07e"/>
<rect x="416" y="513" width="1" height="6" fill="#4db07e"/>
<rect x="423" y="513" width="1" height="1" fill="#4db07e"/>
<rect x="430" y="508" width="1" height="6" fill="#e8485c"/>
<rect x="437" y="504" width="1" height="10" fill="#e8485c"/>
<rect x="444" y="502" width="1" height="12" fill="#e8485c"/>
<rect x="451" y="499" width="1" height="15" fill="#e8485c"/>
<rect x="458" y="491" width="1" height="23" fill="#e8485c"/>
<rect x="465" y="490" width="1" height="24" fill="#e8485c"/>
<rect x="472" y="488" width="1" height="26" fill="#e8485c"/>
<rect x="479" y="488" width="1" height="26" fill="#e8485c"/>
<rect x="486" y="488" width="1" height="26" fill="#e8485c"/>
<rect x="493" y="490" width="1" height="24" fill="#e8485c"/>
<rect x="500" y="495" width="1" height="19" fill="#e8485c"/>
<rect x="507" y="499" width="1" height="15" fill="#e8485c"/>
<rect x="514" y="502" width="1" height="12" fill="#e8485c"/>
<rect x="521" y="505" width="1" height="9" fill="#e8485c"/>
<rect x="528" y="508" width="1" height="6" fill="#e8485c"/>
<rect x="535" y="508" width="1" height="6" fill="#e8485c"/>
<rect x="542" y="509" width="1" height="5" fill="#e8485c"/>
<rect x="549" y="510" width="1" height="4" fill="#e8485c"/>
<rect x="556" y="513" width="1" height="1" fill="#4db07e"/>
<rect x="563" y="513" width="1" height="4" fill="#4db07e"/>
<rect x="570" y="513" width="1" height="5" fill="#4db07e"/>
<rect x="577" y="513" width="1" height="10" fill="#4db07e"/>
<rect x="584" y="513" width="1" height="16" fill="#4db07e"/>
<rect x="591" y="513" width="1" height="17" fill="#4db07e"/>
<rect x="598" y="513" width="1" height="18" fill="#4db07e"/>
<rect x="605" y="513" width="1" height="19" fill="#4db07e"/>
<rect x="612" y="513" width="1" height="16" fill="#4db07e"/>
<rect x="619" y="513" width="1" height="15" fill="#4db07e"/>
<rect x="626" y="513" width="1" height="15" fill="#4db07e"/>
<rect x="633" y="513" width="1" height="16" fill="#4db07e"/>
<rect x="640" y="513" width="1" height="17" fill="#4db07e"/>
<rect x="647" y="513" width="1" height="16" fill="#4db07e"/>
<rect x="654" y="513" width="1" height="16" fill="#4db07e"/>
<rect x="661" y="513" width="1" height="15" fill="#4db07e"/>
<rect x="668" y="513" width="1" height="13" fill="#4db07e"/>
<rect x="675" y="513" width="1" height="13" fill="#4db07e"/>
<rect x="682" y="513" width="1" height="17" fill="#4db07e"/>
<rect x="689" y="513" width="1" height="21" fill="#4db07e"/>
<rect x="696" y="513" width="1" height="23" fill="#4db07e"/>
<rect x="703" y="513" width="1" height="21" fill="#4db07e"/>
<rect x="710" y="513" width="1" height="17" fill="#4db07e"/>
<rect x="717" y="513" width="1" height="9" fill="#4db07e"/>
<rect x="724" y="513" width="1" height="7" fill="#4db07e"/>
<rect x="731" y="513" width="1" height="7" fill="#4db07e"/>
<rect x="738" y="513" width="1" height="7" fill="#4db07e"/>
<rect x="745" y="513" width="1" height="7" fill="#4db07e"/>
<rect x="752" y="513" width="1" height="7" fill="#4db07e"/>
<rect x="759" y="513" width="1" height="10" fill="#4db07e"/>
<rect x="766" y="513" width="1" height="13" fill="#4db07e"/>
<rect x="773" y="513" width="1" height="14" fill="#4db07e"/>
</g>
<polyline points="94.5,515.75 101.5,512 108.5,508 115.5,505 122.5,502 129.5,498.75 136.5,495 143.5,493 150.5,491.25 157.5,490 164.5,488 171.5,486.25 178.5,484.25 185.5,483 192.5,481.25 199.5,479.5 206.5,478 213.5,477 220.5,477 227.5,477.5 234.5,478 241.5,478.25 248.5,478.75 255,480 269.5,480.5 283.5,478.75 297.5,479.5 311.5,480.75 325.5,483 339.5,486.25 346.5,488.75 353.5,492.5 360.5,496.25 367.5,500.5 374.5,504.5 381.5,507.5 388.5,510.5 395.5,513.25 402.5,515 409.5,516.75 416.5,518 423.5,517.5 430.5,516.25 437.5,515 444.5,513 451.5,512 458.5,509.5 465.5,506.25 472.5,503 479.5,500 486.5,497 493.5,493.75 500.5,491.25 507.5,489.25 514.5,488 521.5,487 528.5,486.25 535.5,485.75 542.5,485.5 549.5,485 556.5,485 563.5,485.75 570.5,486.25 577.5,487.5 584.5,489.5 591.5,491.75 598.5,494.25 605.5,497 612.5,498.75 619.5,500.5 626.5,502.5 633.5,504.5 640.5,506.25 647.5,508 654.5,509.5 661.5,510.75 668.5,512 675.5,513.25 682.5,515 689.5,518.5 696.6,522 703.6,524 710.8,525.4 717.5,526.2 725.5,527.5 733.6,528.6 743,530.2 752.4,530.8 760.4,532.6 767,534 773,535.3" fill="none" stroke="#3cc084" stroke-width="1" stroke-linejoin="round" shape-rendering="crispEdges"/>
<polyline points="94.5,498.75 101.5,493.75 108.5,491.25 115.5,490 122.5,487 129.5,486.25 136.5,485 143.5,484.25 150.5,484.25 157.5,483.25 164.5,482 171.5,479.5 178.5,477.5 185.5,476.25 192.5,474.5 199.5,473.25 206.5,473.25 213.5,475 220.5,475.5 227.5,478 234.5,481.25 241.5,479.5 248.5,480.75 255,482.5 269.5,481.25 283.5,477.5 297.5,480 311.5,482.5 325.5,486.25 339.5,492.5 346.5,498.75 353.5,505 360.5,511.25 367.5,516.25 374.5,519.5 381.5,522 388.5,523.75 395.5,525 402.5,524.5 409.5,522.5 416.5,519.5 423.5,517.5 430.5,514.5 437.5,511.25 444.5,508.75 451.5,505 458.5,498 465.5,494.5 472.5,491.25 479.5,488 486.5,484.5 493.5,482.5 500.5,483.25 507.5,483.75 514.5,483.75 521.5,484.25 528.5,484.5 535.5,484.5 542.5,484.5 549.5,484.5 556.5,485.5 563.5,487.5 570.5,489.5 577.5,492.5 584.5,497 591.5,499.5 598.5,502.5 605.5,505.5 612.5,506.25 619.5,507.5 626.5,509.5 633.5,512 640.5,513 647.5,514.5 654.5,516.25 661.5,517.5 668.5,518.25 675.5,519.25 682.5,522.5 689.5,529.5 696.6,533 703.6,533.4 709.5,534.25 717.5,530.2 725.5,530 733.6,531.3 743,533 752.4,533.4 760.4,537.5 767,540.1 773,541.5" fill="none" stroke="#2c86f4" stroke-width="1" stroke-linejoin="round" shape-rendering="crispEdges"/>
<g><circle cx="28.9" cy="457.8" r="3.6" fill="#fff" stroke="#000" stroke-width="1.1"/><circle cx="28.9" cy="457.8" r="2" fill="#ff0a0a"/>
<path d="M28.5 451v1.9M28.5 462.8v1.9M22 457.5h1.9M34.1 457.5h1.9M23.2 452.1l1.9 1.7M32.8 461.9l1.9 1.7M34.7 452.1l-1.9 1.7M25.1 461.9l-1.9 1.7" stroke="#ff0a0a" stroke-width="1.1" fill="none"/></g>
<g shape-rendering="crispEdges" fill="#c5ced8">
<rect x="220" y="546" width="1" height="6"/>
<rect x="368" y="546" width="1" height="6"/>
<rect x="514" y="546" width="1" height="6"/>
<rect x="668" y="546" width="1" height="6"/>
</g>
<text x="222.6" y="559.3" font-size="12" font-weight="bold" fill="#26263a" textLength="43.6" lengthAdjust="spacingAndGlyphs">2024/11</text>
<text x="369.6" y="559.3" font-size="12" font-weight="bold" fill="#26263a" textLength="43.6" lengthAdjust="spacingAndGlyphs">2024/12</text>
<text x="516.3" y="559.3" font-size="12" font-weight="bold" fill="#26263a" textLength="43.6" lengthAdjust="spacingAndGlyphs">2025/01</text>
<text x="670.2" y="559.3" font-size="12" font-weight="bold" fill="#26263a" textLength="43.6" lengthAdjust="spacingAndGlyphs">2025/02</text>
<g shape-rendering="crispEdges"><rect x="20.5" y="546.5" width="69" height="19" fill="#fff" stroke="#cdd4dc"/></g>
<text x="34.6" y="561.8" font-family="'Liberation Sans','Noto Sans CJK SC',sans-serif" font-size="12.4" font-weight="bold" fill="#ff7a10" textLength="25.6" lengthAdjust="spacingAndGlyphs">日线</text>
<path d="M64.4 561.2h8.8l-4.4 -8.4z" fill="#ff7a10"/>
<g shape-rendering="crispEdges">
<rect x="20" y="566" width="39" height="15" fill="#ff6a00"/>
<rect x="99" y="567" width="1" height="14" fill="#c9d1d9"/>
<rect x="157" y="567" width="1" height="14" fill="#c9d1d9"/>
<rect x="185" y="567" width="1" height="14" fill="#c9d1d9"/>
<rect x="225" y="567" width="1" height="14" fill="#c9d1d9"/>
<rect x="266" y="567" width="1" height="14" fill="#c9d1d9"/>
<rect x="300" y="567" width="1" height="14" fill="#c9d1d9"/>
<rect x="333" y="567" width="1" height="14" fill="#c9d1d9"/>
<rect x="373" y="567" width="1" height="14" fill="#c9d1d9"/>
<rect x="408" y="567" width="1" height="14" fill="#c9d1d9"/>
<rect x="436" y="567" width="1" height="14" fill="#c9d1d9"/>
<rect x="470" y="567" width="1" height="14" fill="#c9d1d9"/>
<rect x="509" y="567" width="1" height="14" fill="#c9d1d9"/>
<rect x="543" y="567" width="1" height="14" fill="#c9d1d9"/>
<rect x="583" y="567" width="1" height="14" fill="#c9d1d9"/>
</g>
<text x="28.2" y="578.8" font-family="'Liberation Sans','Noto Sans CJK SC',sans-serif" font-size="12" font-weight="bold" fill="#fff" textLength="23.6" lengthAdjust="spacingAndGlyphs">指标</text>
<text x="68.2" y="578.8" font-family="'Liberation Sans','Noto Sans CJK SC',sans-serif" font-size="12" fill="#222" textLength="23.6" lengthAdjust="spacingAndGlyphs">模板</text>
<text x="126.4" y="578.8" font-family="'Liberation Sans','Noto Sans CJK SC',sans-serif" font-size="12" fill="#ff7a10" textLength="23.4" lengthAdjust="spacingAndGlyphs">指标</text>
<text x="552.3" y="578.8" font-family="'Liberation Sans','Noto Sans CJK SC',sans-serif" font-size="12" fill="#222" textLength="23.4" lengthAdjust="spacingAndGlyphs">设置</text>
<text x="108.6" y="578.8" font-family="'Liberation Mono',monospace" font-size="12.4" fill="#ff7a10" textLength="18" lengthAdjust="spacingAndGlyphs">VIP</text>
<text x="166.2" y="578.8" font-family="'Liberation Mono',monospace" font-size="12.4" fill="#333" textLength="11.5" lengthAdjust="spacingAndGlyphs">MA</text>
<text x="193.8" y="578.8" font-family="'Liberation Mono',monospace" font-size="12.4" fill="#333" textLength="23.5" lengthAdjust="spacingAndGlyphs">MACD</text>
<text x="234.5" y="578.8" font-family="'Liberation Mono',monospace" font-size="12.4" fill="#333" textLength="23" lengthAdjust="spacingAndGlyphs">BIAS</text>
<text x="273.8" y="578.8" font-family="'Liberation Mono',monospace" font-size="12.4" fill="#333" textLength="17.5" lengthAdjust="spacingAndGlyphs">CCI</text>
<text x="308" y="578.8" font-family="'Liberation Mono',monospace" font-size="12.4" fill="#333" textLength="18" lengthAdjust="spacingAndGlyphs">KDJ</text>
<text x="342" y="578.8" font-family="'Liberation Mono',monospace" font-size="12.4" fill="#333" textLength="18.5" lengthAdjust="spacingAndGlyphs">LW&amp;</text>
<text x="382" y="578.8" font-family="'Liberation Mono',monospace" font-size="12.4" fill="#333" textLength="17.5" lengthAdjust="spacingAndGlyphs">RSI</text>
<text x="416.3" y="578.8" font-family="'Liberation Mono',monospace" font-size="12.4" fill="#333" textLength="11.5" lengthAdjust="spacingAndGlyphs">CR</text>
<text x="444.5" y="578.8" font-family="'Liberation Mono',monospace" font-size="12.4" fill="#333" textLength="17.5" lengthAdjust="spacingAndGlyphs">PSY</text>
<text x="478" y="578.8" font-family="'Liberation Mono',monospace" font-size="12.4" fill="#333" textLength="23.3" lengthAdjust="spacingAndGlyphs">BOLL</text>
<text x="518" y="578.8" font-family="'Liberation Mono',monospace" font-size="12.4" fill="#333" textLength="17" lengthAdjust="spacingAndGlyphs">VOL</text>
<g font-size="29.8" letter-spacing="0">
<text x="800.6" y="557.7" fill="#bfa898" fill-opacity="0.6" textLength="98" lengthAdjust="spacing" style="filter:blur(0.7px)">FX678</text>
<text x="799.6" y="556.6" fill="#deeaf8" textLength="98" lengthAdjust="spacing">FX678</text>
</g>
</svg></body></html>
